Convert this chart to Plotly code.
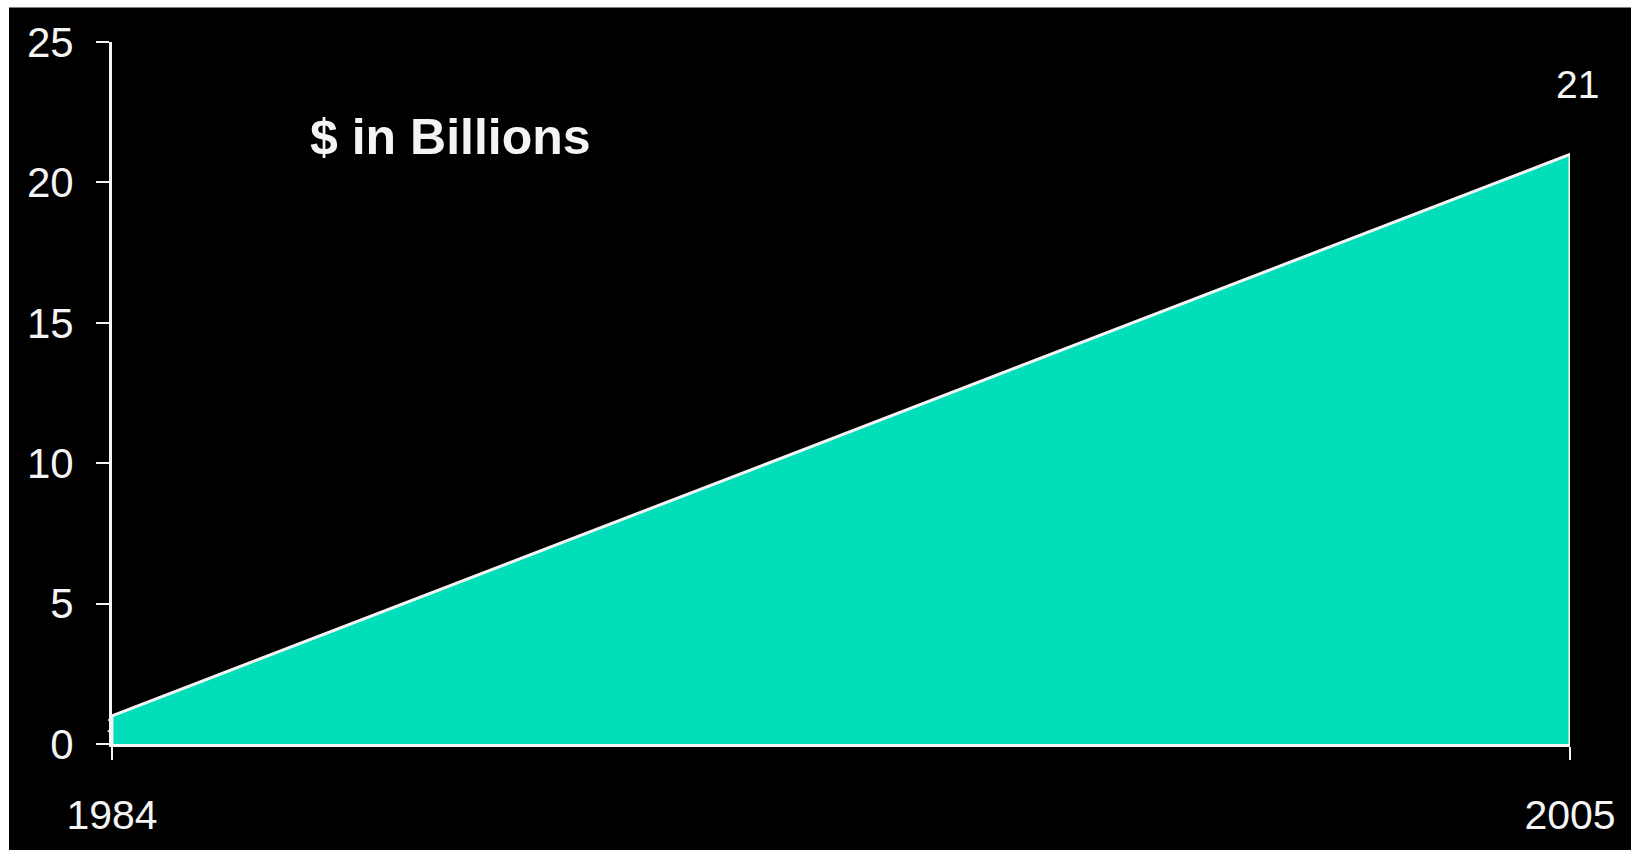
import plotly.graph_objects as go

# Revenue, $ in billions
years = [1984, 2005]
values = [1, 21]
value_labels = ["1", "21"]
y_ticks = [0, 5, 10, 15, 20, 25]
y_tick_labels = ["0", "5", "10", "15", "20", "25"]
title_text = "$ in Billions"

W, H = 1631, 850
M_L, M_R, M_T, M_B = 112, 61, 42, 98

FILL = "#02DDBA"
FG = "#F4F4F4"
FONT = "Liberation Sans, Arial, sans-serif"

# closed outline of the area: down to the baseline at both ends
poly_x = [years[0]] + years + [years[-1]]
poly_y = [0] + values + [0]

fig = go.Figure()

# start-value label sits underneath the area
fig.add_trace(go.Scatter(
    x=[years[0]], y=[values[0]], mode="text", text=[value_labels[0]],
    textposition="bottom center",
    textfont=dict(family=FONT, size=22, color=FG),
    hoverinfo="skip", showlegend=False, cliponaxis=False,
))

fig.add_trace(go.Scatter(
    x=poly_x, y=poly_y, mode="lines", fill="toself", fillcolor=FILL,
    line=dict(color=FG, width=3), hoverinfo="skip", showlegend=False,
))

fig.add_annotation(
    x=years[-1], y=values[-1], text=value_labels[-1], showarrow=False,
    yshift=70, xshift=7, font=dict(family=FONT, size=39, color=FG),
)

pw = W - M_L - M_R
ph = H - M_T - M_B
def px_x(p):
    return (p - M_L) / pw
def px_y(p):
    return (H - M_B - p) / ph

fig.add_annotation(
    xref="paper", yref="paper", x=px_x(450), y=px_y(138), text="<b>%s</b>" % title_text,
    showarrow=False, xanchor="center", yanchor="middle",
    font=dict(family=FONT, size=50, color=FG),
)

# thin white edge along the left and top of the page
fig.add_shape(type="rect", xref="paper", yref="paper",
              x0=px_x(-40), x1=px_x(9), y0=px_y(H + 40), y1=px_y(-40),
              fillcolor="white", line=dict(width=0), layer="above")
fig.add_shape(type="rect", xref="paper", yref="paper",
              x0=px_x(-40), x1=px_x(W + 40), y0=px_y(7), y1=px_y(-40),
              fillcolor="white", line=dict(width=0), layer="above")

fig.update_layout(
    width=W, height=H,
    margin=dict(l=M_L, r=M_R, t=M_T, b=M_B, pad=0),
    paper_bgcolor="black", plot_bgcolor="black",
    font=dict(family=FONT, color=FG),
    showlegend=False,
    xaxis=dict(
        range=[years[0], years[-1]], tickmode="array", tickvals=years,
        ticktext=[str(y) for y in years], ticks="outside", ticklen=13,
        tickwidth=2, tickcolor=FG, showline=True, linecolor=FG, linewidth=3,
        showgrid=False, zeroline=False, tickfont=dict(size=41, color=FG),
        ticklabelstandoff=20,
    ),
    yaxis=dict(
        range=[0, 25], tickmode="array", tickvals=y_ticks, ticktext=y_tick_labels,
        ticks="outside", ticklen=13, tickwidth=2, tickcolor=FG,
        showline=True, linecolor=FG, linewidth=3, showgrid=False, zeroline=False,
        tickfont=dict(size=42, color=FG), ticklabelstandoff=14,
    ),
)

fig.write_html("out.html")
